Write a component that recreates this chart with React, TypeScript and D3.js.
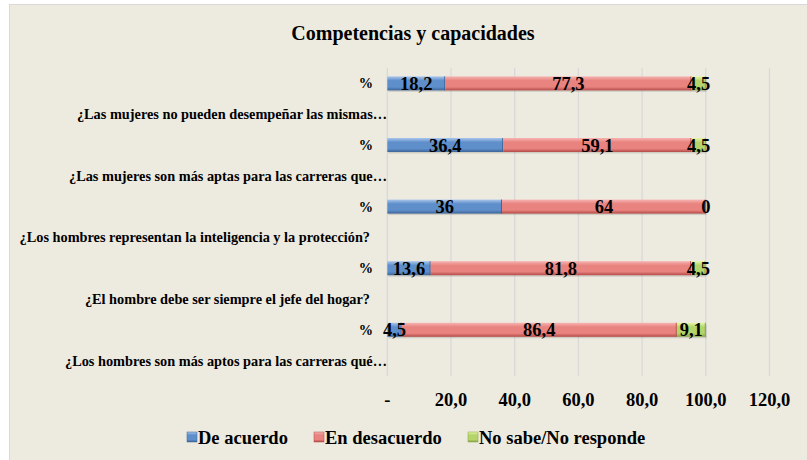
import React from 'react';
import * as d3 from 'd3';

// chart values
const questions = [
  '¿Las mujeres no pueden desempeñar las mismas…',
  '¿Las mujeres son más aptas para las carreras que…',
  '¿Los hombres representan la inteligencia y la protección?',
  '¿El hombre debe ser siempre el jefe del hogar?',
  '¿Los hombres son más aptos para las carreras qué…',
];
const deAcuerdo = [18.2, 36.4, 36, 13.6, 4.5];
const enDesacuerdo = [77.3, 59.1, 64, 81.8, 86.4];
const noSabe = [4.5, 4.5, 0, 4.5, 9.1];
const seriesNames = ['De acuerdo', 'En desacuerdo', 'No sabe/No responde'];
const xTicks = [0, 20, 40, 60, 80, 100, 120];

const W = 807;
const H = 460;
const FONT = "'Liberation Serif', 'DejaVu Serif', serif";

const colors = [
  { top: '#A9C6EC', mid: '#5F8FCB', bot: '#3C6598' },
  { top: '#F7B4B2', mid: '#E8837F', bot: '#B44A47' },
  { top: '#E6F7A6', mid: '#B5D46A', bot: '#86A545' },
];

const fmt = (v: number) => (Number.isInteger(v) ? String(v) : v.toFixed(1).replace('.', ','));
const fmtTick = (v: number) => (v === 0 ? '-' : v.toFixed(1).replace('.', ','));

export default function App() {
  const rows: string[] = [];
  questions.forEach((_, i) => {
    rows.push('p' + i);
    rows.push('q' + i);
  });

  const x = d3.scaleLinear().domain([0, 120]).range([387.3, 769.5]);
  const y = d3.scaleBand<string>().domain(rows).range([68, 376]).paddingInner(0.545).paddingOuter(0.2725);

  const values = [deAcuerdo, enDesacuerdo, noSabe];
  const stacked = d3.stack<number>().keys(['0', '1', '2']).value((i, k) => values[+k][i])(questions.map((_, i) => i));

  const bw = y.bandwidth();
  const legendX = [187, 314, 468];

  return (
    <svg width={W} height={H} style={{ position: 'absolute', left: 0, top: 0, fontFamily: FONT }}>
      <defs>
        {colors.map((c, i) => (
          <linearGradient key={i} id={'g' + i} x1="0" y1="0" x2="0" y2="1">
            <stop offset="0%" stopColor={c.top} />
            <stop offset="30%" stopColor={c.mid} />
            <stop offset="75%" stopColor={c.mid} />
            <stop offset="100%" stopColor={c.bot} />
          </linearGradient>
        ))}
      </defs>
      <rect x={0} y={0} width={W} height={H} fill="#fff" />
      <rect x={9.5} y={4.5} width={W} height={H} fill="#EDEAE0" stroke="#D9D9D9" />

      <text x={413} y={40} textAnchor="middle" fontSize={20} fontWeight="bold">
        Competencias y capacidades
      </text>

      {/* grid */}
      {xTicks.map(t => (
        <line key={t} x1={x(t)} x2={x(t)} y1={68} y2={376} stroke="#D9D9D9" strokeWidth={1.3} />
      ))}

      {/* category labels */}
      {rows.map(r => {
        const isPct = r[0] === 'p';
        const q = questions[+r.slice(1)];
        const cy = (y(r) as number) + bw / 2;
        return (
          <text
            key={r}
            x={isPct ? 373 : q.endsWith('…') ? 387 : 370}
            y={cy + 5}
            textAnchor="end"
            fontSize={14.3}
            fontWeight="bold"
          >
            {isPct ? '%' : q}
          </text>
        );
      })}

      {/* bars */}
      {stacked.map((s, si) => (
        <g key={si}>
          {s.map((d, i) => {
            const y0 = y('p' + i) as number;
            const w = x(d[1]) - x(d[0]);
            return (
              <g key={i}>
                <rect x={x(d[0]) + 1} y={y0 + 1.5} width={w} height={bw} fill="#000" opacity={0.12} />
                <rect x={x(d[0])} y={y0} width={w} height={bw} fill={`url(#g${si})`} />
                {w > 0 && (
                  <line x1={x(d[1]) - 0.5} x2={x(d[1]) - 0.5} y1={y0} y2={y0 + bw} stroke={colors[si].bot} />
                )}
              </g>
            );
          })}
        </g>
      ))}

      {/* data labels */}
      {stacked.map((s, si) =>
        s.map((d, i) => (
          <text
            key={si + '-' + i}
            x={(x(d[0]) + x(d[1])) / 2}
            y={(y('p' + i) as number) + bw / 2 + 6.5}
            textAnchor="middle"
            fontSize={18.5}
            fontWeight="bold"
          >
            {fmt(values[si][i])}
          </text>
        ))
      )}

      {/* x ticks */}
      {xTicks.map(t => (
        <text key={t} x={x(t)} y={406} textAnchor="middle" fontSize={18.5} fontWeight="bold">
          {fmtTick(t)}
        </text>
      ))}

      {/* legend */}
      {seriesNames.map((n, i) => (
        <g key={n}>
          <rect x={legendX[i]} y={432} width={10} height={10} fill={`url(#g${i})`} stroke={colors[i].bot} strokeWidth={0.5} />
          <text x={legendX[i] + 11} y={443.5} fontSize={18.5} fontWeight="bold">
            {n}
          </text>
        </g>
      ))}
    </svg>
  );
}
